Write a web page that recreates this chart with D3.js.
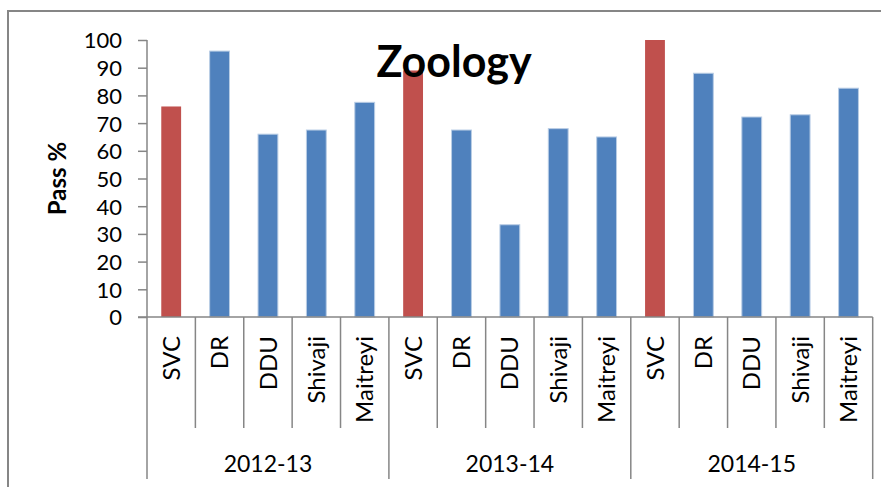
<!DOCTYPE html>
<html>
<head>
<meta charset="utf-8">
<script src="https://cdn.jsdelivr.net/npm/d3@7"></script>
<style>
body { margin: 0; background: #fff; }
text { font-family: Lato, "Open Sans", sans-serif; fill: #000; }
</style>
</head>
<body>
<svg width="890" height="487"></svg>
<script>
var years = ["2012-13", "2013-14", "2014-15"];
var colleges = ["SVC", "DR", "DDU", "Shivaji", "Maitreyi"];
var pass_2012 = [76, 96, 66, 67.5, 77.5];
var pass_2013 = [89, 67.5, 33.3, 68, 65];
var pass_2014 = [100, 88, 72.2, 73, 82.6];
var yTicks = [0, 10, 20, 30, 40, 50, 60, 70, 80, 90, 100];

var svg = d3.select("svg");
var plotLeft = 147, plotRight = 872.7, plotTop = 40, plotBottom = 317;
var gridColor = "#868686";

// outer frame (only top and left visible)
svg.append("path")
  .attr("d", "M8,487 L8,11 L881,11")
  .attr("fill", "none")
  .attr("stroke", gridColor)
  .attr("stroke-width", 2);

var data = [];
[pass_2012, pass_2013, pass_2014].forEach(function(vals, yi) {
  vals.forEach(function(v, ci) {
    data.push({id: yi * 5 + ci, year: years[yi], college: colleges[ci], val: v});
  });
});

var xScale = d3.scaleBand().domain(data.map(function(d) { return d.id; })).range([plotLeft, plotRight]);
var barW = xScale.bandwidth() * 0.41;
var yScale = d3.scaleLinear().domain([0, 100]).range([plotBottom, plotTop]);

// y axis
var yAxis = svg.append("g")
  .attr("transform", "translate(" + plotLeft + ",0)")
  .call(d3.axisLeft(yScale).tickValues(yTicks).tickSize(9).tickPadding(16));
yAxis.selectAll("text").style("font-size", "22px").attr("dy", "0.36em");
yAxis.selectAll("line, path").attr("stroke", gridColor).attr("stroke-width", 1.5);
yAxis.select(".domain").attr("d", "M0," + plotTop + "V" + plotBottom);

// bars
svg.selectAll(".bar")
  .data(data)
  .enter()
  .append("rect")
  .attr("class", "bar")
  .attr("x", function(d) { return xScale(d.id) + (xScale.bandwidth() - barW) / 2; })
  .attr("y", function(d) { return yScale(d.val); })
  .attr("width", barW)
  .attr("height", function(d) { return plotBottom - yScale(d.val); })
  .attr("fill", function(d) { return d.college == "SVC" ? "#C0504D" : "#4F81BD"; })
  .attr("stroke", function(d) { return d.college == "SVC" ? "none" : "#B9CDE5"; })
  .attr("stroke-width", 1);

// x axis line
svg.append("line")
  .attr("x1", plotLeft - 9).attr("x2", plotRight)
  .attr("y1", plotBottom).attr("y2", plotBottom)
  .attr("stroke", gridColor).attr("stroke-width", 1.5);

// separators between categories
var seps = d3.range(0, data.length + 1);
svg.selectAll(".sep")
  .data(seps)
  .enter()
  .append("line")
  .attr("x1", function(i) { return plotLeft + i * xScale.step(); })
  .attr("x2", function(i) { return plotLeft + i * xScale.step(); })
  .attr("y1", plotBottom)
  .attr("y2", function(i) { return i % 5 == 0 ? 479 : 428; })
  .attr("stroke", gridColor)
  .attr("stroke-width", 1.5);

// category labels
svg.selectAll(".cat")
  .data(data)
  .enter()
  .append("text")
  .attr("class", "cat")
  .attr("transform", function(d) {
    return "translate(" + (xScale(d.id) + xScale.bandwidth() / 2) + ",336) rotate(-90)";
  })
  .attr("text-anchor", "end")
  .attr("dy", "0.36em")
  .style("font-size", "24px")
  .text(function(d) { return d.college; });

// year labels
svg.selectAll(".yr")
  .data(years)
  .enter()
  .append("text")
  .attr("class", "yr")
  .attr("x", function(d, i) { return plotLeft + (i * 5 + 2.5) * xScale.step(); })
  .attr("y", 472)
  .attr("text-anchor", "middle")
  .style("font-size", "23px")
  .text(function(d) { return d; });

// y axis title
svg.append("text")
  .attr("transform", "translate(66," + ((plotTop + plotBottom) / 2) + ") rotate(-90)")
  .attr("text-anchor", "middle")
  .style("font-size", "24px")
  .style("font-weight", "bold")
  .text("Pass %");

// chart title
svg.append("text")
  .attr("x", 454)
  .attr("y", 77)
  .attr("text-anchor", "middle")
  .style("font-size", "43px")
  .style("font-weight", "bold")
  .text("Zoology");
</script>
</body>
</html>
